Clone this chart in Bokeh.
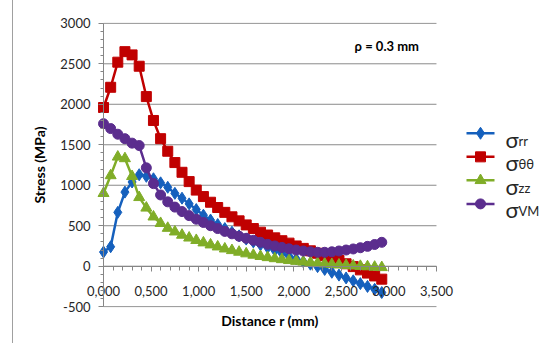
from bokeh.plotting import figure
from bokeh.layouts import row
from bokeh.models import (Range1d, FixedTicker, CustomJSTickFormatter, LinearAxis,
                          Label, ColumnDataSource)
from bokeh.core.properties import value
from bokeh.embed import file_html
from bokeh.resources import INLINE

# ---------------- data ----------------
distance = [0.000, 0.075, 0.150, 0.225, 0.300, 0.375, 0.450, 0.525, 0.600, 0.675,
            0.750, 0.825, 0.900, 0.975, 1.050, 1.125, 1.200, 1.275, 1.350, 1.425,
            1.500, 1.575, 1.650, 1.725, 1.800, 1.875, 1.950, 2.025, 2.100, 2.175,
            2.250, 2.325, 2.400, 2.475, 2.550, 2.625, 2.700, 2.775, 2.850, 2.925]

sigma_rr = [175, 240, 665, 915, 1040, 1130, 1110, 1080, 1030, 975,
            900, 840, 770, 700, 630, 570, 515, 465, 420, 375,
            335, 300, 265, 230, 195, 160, 125, 90, 55, 25,
            -5, -40, -75, -110, -145, -180, -215, -250, -285, -325]

sigma_tt = [1960, 2210, 2520, 2650, 2610, 2470, 2095, 1800, 1575, 1420,
            1280, 1160, 1045, 940, 860, 790, 725, 665, 610, 560,
            510, 465, 420, 385, 350, 315, 285, 250, 220, 190,
            160, 130, 100, 70, 30, -5, -45, -85, -120, -160]

sigma_zz = [900, 1120, 1350, 1330, 1110, 850, 720, 610, 530, 470,
            425, 385, 350, 320, 290, 265, 240, 215, 195, 175,
            155, 138, 122, 108, 95, 83, 72, 62, 53, 45,
            37, 30, 23, 17, 11, 5, 0, -5, -10, -15]

sigma_vm = [1760, 1700, 1630, 1575, 1520, 1490, 1215, 1020, 880, 795,
            730, 675, 625, 580, 540, 500, 465, 430, 400, 370,
            345, 320, 295, 270, 250, 232, 215, 200, 188, 178,
            172, 172, 178, 188, 200, 213, 228, 245, 268, 295]

x_ticks = [0.0, 0.5, 1.0, 1.5, 2.0, 2.5, 3.0, 3.5]
x_tick_labels = ["0,000", "0,500", "1,000", "1,500", "2,000", "2,500", "3,000", "3,500"]
x_minor_ticks = [0.0, 0.1, 0.2, 0.3, 0.4, 0.5, 0.6, 0.7, 0.8, 0.9, 1.0, 1.1, 1.2, 1.3,
                 1.4, 1.5, 1.6, 1.7, 1.8, 1.9, 2.0, 2.1, 2.2, 2.3, 2.4, 2.5, 2.6, 2.7,
                 2.8, 2.9, 3.0, 3.1, 3.2, 3.3, 3.4, 3.5]
y_ticks = [-500, 0, 500, 1000, 1500, 2000, 2500, 3000]
y_tick_labels = ["-500", "0", "500", "1000", "1500", "2000", "2500", "3000"]
y_minor_ticks = list(range(-500, 3001, 100))

series_names = ["rr", "θθ", "zz", "VM"]
series_colors = ["#1560bd", "#c00000", "#80ad28", "#5b2d8e"]
series_markers = ["diamond", "square", "triangle", "circle"]
series_sizes = [12, 10, 11, 10]

annotation_text = "ρ = 0.3 mm"

FONT = "Lato"
AXIS_COL = "#868686"
TXT_COL = "#262626"

# ---------------- main plot ----------------
p = figure(width=457, height=343,
           x_range=Range1d(-0.2, 3.7), y_range=Range1d(-510, 3010),
           output_backend="svg", toolbar_location=None,
           min_border_left=84, min_border_right=2,
           min_border_top=22, min_border_bottom=36)
p.xgrid.visible = False
p.ygrid.visible = False
p.outline_line_color = None
p.border_fill_color = None
p.background_fill_color = None
p.styles = {"background": "linear-gradient(90deg, #ffffff 0px, #ffffff 12px, #a0a0a0 12px, "
                          "#a0a0a0 13px, #ffffff 13px, #ffffff 100%)"}

# horizontal gridlines spanning the plot area only
p.segment(x0=[x_ticks[0]] * len(y_ticks), x1=[x_ticks[-1]] * len(y_ticks),
          y0=y_ticks, y1=y_ticks, line_color="#8a8a8a", line_width=1)


def js_fmt(tick_values, tick_texts):
    return CustomJSTickFormatter(args=dict(tvals=tick_values, tlabs=tick_texts), code="""
        let best = 0, bd = Infinity;
        for (let i = 0; i < tvals.length; i++) {
            const d = Math.abs(tvals[i] - tick);
            if (d < bd) { bd = d; best = i; }
        }
        return tlabs[best];
    """)


# x axis pinned at y = 0 (line, ticks, labels)
xa = p.xaxis[0]
xa.fixed_location = 0
xa.bounds = (x_ticks[0], x_ticks[-1])
xa.ticker = FixedTicker(ticks=x_ticks, minor_ticks=x_minor_ticks)
xa.formatter = js_fmt(x_ticks, x_tick_labels)
xa.axis_line_color = AXIS_COL
xa.major_tick_line_color = AXIS_COL
xa.minor_tick_line_color = AXIS_COL
xa.major_tick_in = 0
xa.major_tick_out = 5
xa.minor_tick_in = 0
xa.minor_tick_out = 4
xa.major_label_standoff = 15
xa.major_label_text_font = FONT
xa.major_label_text_font_size = "13px"
xa.major_label_text_color = TXT_COL

# y axis: labels + title on the regular left axis
ya = p.yaxis[0]
ya.ticker = FixedTicker(ticks=y_ticks)
ya.formatter = js_fmt(y_ticks, y_tick_labels)
ya.axis_line_color = None
ya.major_tick_line_color = None
ya.minor_tick_line_color = None
ya.major_tick_in = 0
ya.major_tick_out = 0
ya.major_label_standoff = -6
ya.major_label_text_font = FONT
ya.major_label_text_font_size = "13px"
ya.major_label_text_color = TXT_COL
ya.axis_label = "Stress (MPa)"
ya.axis_label_text_font = FONT
ya.axis_label_text_font_size = "14px"
ya.axis_label_text_font_style = "bold"
ya.axis_label_text_color = "#000000"
ya.axis_label_standoff = 9

# y axis line and ticks pinned at x = 0
yl = LinearAxis(fixed_location=0, bounds=(y_ticks[0], y_ticks[-1]),
                ticker=FixedTicker(ticks=y_ticks, minor_ticks=y_minor_ticks),
                axis_line_color=AXIS_COL, major_tick_line_color=AXIS_COL,
                minor_tick_line_color=AXIS_COL, major_tick_in=0, major_tick_out=5,
                minor_tick_in=0, minor_tick_out=3,
                major_label_text_font_size="0px", major_label_text_alpha=0)
p.add_layout(yl, "left")

# x axis title below the plot area
xt = LinearAxis(ticker=FixedTicker(ticks=[]), axis_line_color=None,
                major_tick_out=0, major_tick_in=0, minor_tick_out=0, minor_tick_in=0,
                major_label_standoff=0,
                axis_label="Distance r (mm)", axis_label_standoff=4,
                axis_label_text_font=FONT, axis_label_text_font_size="14px",
                axis_label_text_font_style="bold", axis_label_text_color="#000000")
p.add_layout(xt, "below")

src = ColumnDataSource(dict(x=distance, rr=sigma_rr, tt=sigma_tt, zz=sigma_zz, vm=sigma_vm))
for col, c, m, s in zip(["rr", "tt", "zz", "vm"], series_colors, series_markers, series_sizes):
    p.line("x", col, source=src, line_color=c, line_width=2.5)
    p.scatter("x", col, source=src, marker=m, size=s, fill_color=c, line_color=c)

p.add_layout(Label(x=3.316, y=2725, text=annotation_text, text_align="right",
                   text_baseline="middle", text_font=FONT, text_font_size="13px",
                   text_font_style="bold", text_color="#000000"))

# ---------------- legend (separate panel) ----------------
leg = figure(width=90, height=343, x_range=Range1d(0, 90), y_range=Range1d(343, 0),
             output_backend="svg", toolbar_location=None,
             x_axis_type=None, y_axis_type=None, min_border=0)
leg.grid.visible = False
leg.outline_line_color = None

leg_y = [133.3, 161.7, 190.0, 218.3]
for yy, c, m, s in zip(leg_y, series_colors, series_markers, series_sizes):
    leg.line([9, 37], [yy, yy], line_color=c, line_width=2.5)
    leg.scatter([23], [yy], marker=m, size=s, fill_color=c, line_color=c)

leg.text(x=[48] * 4, y=[yy + 7 for yy in leg_y], text=["σ"] * 4,
         text_font=value(FONT), text_font_size="22px", text_baseline="alphabetic",
         text_color=TXT_COL)
leg.text(x=[61] * 4, y=[yy + 9 for yy in leg_y], text=series_names,
         text_font=value(FONT), text_font_size="13px", text_baseline="alphabetic",
         text_color=TXT_COL)

layout = row(p, leg)
open("out.html", "w").write(file_html(layout, INLINE))
